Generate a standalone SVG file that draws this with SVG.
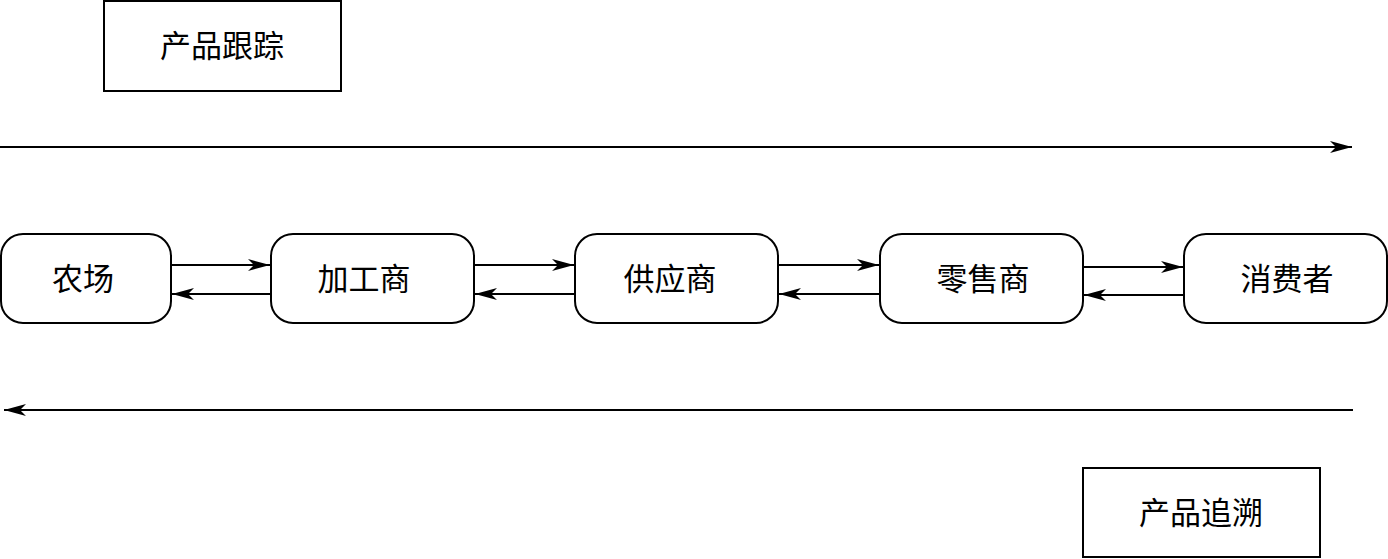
<svg xmlns="http://www.w3.org/2000/svg" width="1388" height="559" viewBox="0 0 1388 559">
<style>
.box{fill:#fff;stroke:#000;stroke-width:2}
.ln{stroke:#000;stroke-width:2;fill:none}
text{font-family:"Liberation Serif","Noto Sans CJK SC",serif;font-size:31px;fill:#000;text-anchor:middle;dominant-baseline:central}
</style>
<defs>
<marker id="ah" viewBox="0 0 22 12" refX="22" refY="6" markerWidth="22" markerHeight="12" markerUnits="userSpaceOnUse" orient="auto">
<path d="M0,0 L22,6 L0,12 L6,6 Z" fill="#000"/>
</marker>
</defs>
<rect width="1388" height="559" fill="#fff"/>
<g id="track"><rect class="box" x="104" y="1" width="237" height="90"/><text x="222" y="46">产品跟踪</text></g>
<g id="trace"><rect class="box" x="1083" y="468" width="237" height="89"/><text x="1201" y="513">产品追溯</text></g>
<g id="farm"><rect class="box" x="1" y="234" width="170" height="89" rx="22"/><text x="83" y="279">农场</text></g>
<g id="processor"><rect class="box" x="271" y="234" width="203" height="89" rx="22"/><text x="364" y="279">加工商</text></g>
<g id="supplier"><rect class="box" x="575" y="234" width="203" height="89" rx="22"/><text x="670" y="279">供应商</text></g>
<g id="retailer"><rect class="box" x="880" y="234" width="203" height="89" rx="22"/><text x="983" y="279">零售商</text></g>
<g id="consumer"><rect class="box" x="1184" y="234" width="203" height="89" rx="22"/><text x="1287" y="279">消费者</text></g>
<g id="connectors">
<line class="ln" x1="0" y1="147" x2="1352" y2="147" marker-end="url(#ah)"/>
<line class="ln" x1="1353" y1="410" x2="4" y2="410" marker-end="url(#ah)"/>
<line class="ln" x1="171" y1="265" x2="270" y2="265" marker-end="url(#ah)"/>
<line class="ln" x1="271" y1="294" x2="172" y2="294" marker-end="url(#ah)"/>
<line class="ln" x1="474" y1="265" x2="574" y2="265" marker-end="url(#ah)"/>
<line class="ln" x1="575" y1="294" x2="475" y2="294" marker-end="url(#ah)"/>
<line class="ln" x1="778" y1="265" x2="879" y2="265" marker-end="url(#ah)"/>
<line class="ln" x1="880" y1="294" x2="779" y2="294" marker-end="url(#ah)"/>
<line class="ln" x1="1083" y1="267" x2="1183" y2="267" marker-end="url(#ah)"/>
<line class="ln" x1="1184" y1="295" x2="1084" y2="295" marker-end="url(#ah)"/>
</g>
</svg>
